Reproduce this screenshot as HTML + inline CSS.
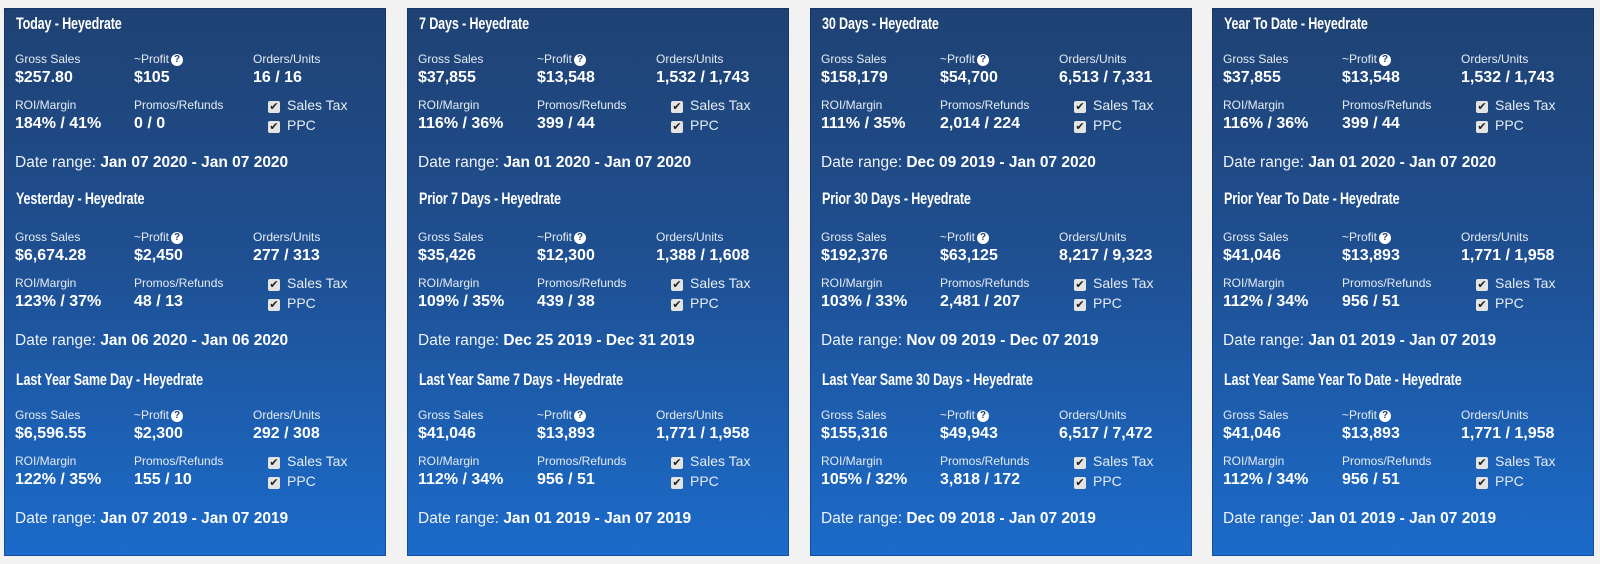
<!DOCTYPE html>
<html><head><meta charset="utf-8">
<style>
html,body{margin:0;padding:0;}
body{width:1600px;height:564px;background:#f2f2f3;position:relative;overflow:hidden;font-family:"Liberation Sans",sans-serif;color:#fff;}
.panel{position:absolute;top:8px;width:382px;height:548px;background:linear-gradient(180deg,#1f4273 0%,#1f4f91 45%,#1b6bca 100%);box-shadow:inset 0 0 0 1px rgba(10,30,80,.35);}
.t{position:absolute;font-family:"Liberation Sans",sans-serif;font-weight:bold;font-size:17px;white-space:nowrap;transform:scaleX(.74);transform-origin:left center;letter-spacing:-0.2px;}
.lab{position:absolute;font-size:12px;color:#e6ecf5;white-space:nowrap;}
.val{position:absolute;font-size:16px;font-weight:bold;white-space:nowrap;}
.dr{position:absolute;font-size:15.5px;white-space:nowrap;color:#eef2f8;}
.dr b{color:#fff;}
.cb{position:absolute;width:12px;height:12px;background:#e4e4e4;border-radius:2px;color:#222;font-size:11px;line-height:12px;text-align:center;}
.q{display:inline-block;width:12px;height:12px;border-radius:50%;background:#fff;color:#1f4273;font-size:10px;line-height:12px;text-align:center;font-weight:bold;vertical-align:1px;margin-left:2px;}
</style></head><body>
<script>
const titles=[["Today","Yesterday","Last Year Same Day"],["7 Days","Prior 7 Days","Last Year Same 7 Days"],["30 Days","Prior 30 Days","Last Year Same 30 Days"],["Year To Date","Prior Year To Date","Last Year Same Year To Date"]];
const gross=[["$257.80","$6,674.28","$6,596.55"],["$37,855","$35,426","$41,046"],["$158,179","$192,376","$155,316"],["$37,855","$41,046","$41,046"]];
const profit=[["$105","$2,450","$2,300"],["$13,548","$12,300","$13,893"],["$54,700","$63,125","$49,943"],["$13,548","$13,893","$13,893"]];
const orders=[["16 / 16","277 / 313","292 / 308"],["1,532 / 1,743","1,388 / 1,608","1,771 / 1,958"],["6,513 / 7,331","8,217 / 9,323","6,517 / 7,472"],["1,532 / 1,743","1,771 / 1,958","1,771 / 1,958"]];
const roi=[["184% / 41%","123% / 37%","122% / 35%"],["116% / 36%","109% / 35%","112% / 34%"],["111% / 35%","103% / 33%","105% / 32%"],["116% / 36%","112% / 34%","112% / 34%"]];
const promos=[["0 / 0","48 / 13","155 / 10"],["399 / 44","439 / 38","956 / 51"],["2,014 / 224","2,481 / 207","3,818 / 172"],["399 / 44","956 / 51","956 / 51"]];
const ranges=[["Jan 07 2020 - Jan 07 2020","Jan 06 2020 - Jan 06 2020","Jan 07 2019 - Jan 07 2019"],["Jan 01 2020 - Jan 07 2020","Dec 25 2019 - Dec 31 2019","Jan 01 2019 - Jan 07 2019"],["Dec 09 2019 - Jan 07 2020","Nov 09 2019 - Dec 07 2019","Dec 09 2018 - Jan 07 2019"],["Jan 01 2020 - Jan 07 2020","Jan 01 2019 - Jan 07 2019","Jan 01 2019 - Jan 07 2019"]];
const panelX=[4,407,810,1212];
function add(parent,cls,x,y,html,name,inter){
  const e=document.createElement('div');
  e.className=cls;e.style.left=x+'px';e.style.top=y+'px';e.innerHTML=html;
  
  
  parent.appendChild(e);return e;
}
for(let p=0;p<4;p++){
  const pan=document.createElement('div');
  pan.className='panel';pan.style.left=panelX[p]+'px';
  
  
  document.body.appendChild(pan);
  for(let s=0;s<3;s++){
    const o=s*178;
    add(pan,'t',12,o+6+(s==1?-3:0),titles[p][s]+' - Heyedrate','section-title',false);
    add(pan,'lab',11,o+44,'Gross Sales','gross-sales-label',false);
    add(pan,'val',11,o+61,gross[p][s],'gross-sales-value',false);
    add(pan,'lab',130,o+44,'~Profit<span class="q">?</span>','profit-label',false);
    add(pan,'val',130,o+61,profit[p][s],'profit-value',false);
    add(pan,'lab',249,o+44,'Orders/Units','orders-units-label',false);
    add(pan,'val',249,o+61,orders[p][s],'orders-units-value',false);
    add(pan,'lab',11,o+90,'ROI/Margin','roi-margin-label',false);
    add(pan,'val',11,o+107,roi[p][s],'roi-margin-value',false);
    add(pan,'lab',130,o+90,'Promos/Refunds','promos-refunds-label',false);
    add(pan,'val',130,o+107,promos[p][s],'promos-refunds-value',false);
    add(pan,'cb',264,o+93,'✔','sales-tax-checkbox',true);
    add(pan,'lab',283,o+89,'<span style="font-size:14px">Sales Tax</span>','sales-tax-label',false);
    add(pan,'cb',264,o+113,'✔','ppc-checkbox',true);
    add(pan,'lab',283,o+109,'<span style="font-size:14px">PPC</span>','ppc-label',false);
    add(pan,'dr',11,o+146,'Date range: <b>'+ranges[p][s]+'</b>','date-range',false);
  }
}
</script>
</body></html>
